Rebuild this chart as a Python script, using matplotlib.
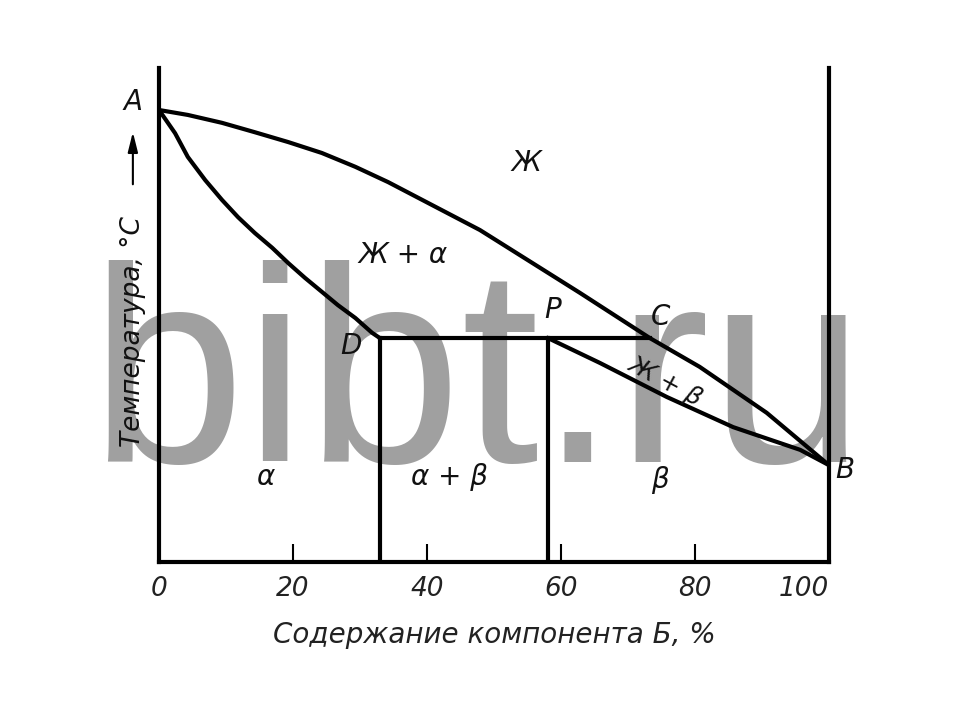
import matplotlib
matplotlib.use("Agg")
import matplotlib.pyplot as plt

# phase diagram, values (x = % B, y = temperature, arbitrary 0..100)
liquidus_x = [0, 4.3, 9.4, 14.3, 19.3, 24.3, 29.3, 34.2, 47.9, 62.8, 73.3, 80.7, 90.7, 100]
liquidus_y = [91.5, 90.5, 88.9, 87.0, 85.0, 82.8, 80.0, 76.9, 67.2, 54.5, 45.3, 39.5, 30.2, 19.6]

solidus_a_x = [0, 2.4, 4.3, 6.9, 9.4, 11.8, 14.3, 16.9, 19.3, 21.8, 24.3, 26.7, 29.3, 31.8, 33.0]
solidus_a_y = [91.5, 86.8, 82.0, 77.3, 73.3, 69.8, 66.6, 63.6, 60.5, 57.5, 54.7, 52.0, 49.4, 46.4, 45.3]

solidus_b_x = [58.1, 65.8, 75.8, 85.7, 95.7, 100]
solidus_b_y = [45.3, 40.3, 33.4, 27.3, 22.7, 19.6]

t_eut = 45.3
x_D, x_P, x_C = 33.0, 58.1, 73.3

xticks = [0, 20, 40, 60, 80, 100]
xtick_labels = ["0", "20", "40", "60", "80", "100"]

points = {"A": (-3.9, 93.1), "D": (28.6, 43.8), "P": (58.8, 51.0),
          "C": (74.8, 49.6), "B": (102.4, 18.6)}
regions = {"Ж": (54.9, 80.8), "Ж + α": (36.4, 62.1), "α": (15.8, 17.2),
           "α + β": (43.4, 17.2), "β": (74.8, 16.6)}

fig = plt.figure(figsize=(9.6, 7.2), dpi=100)
ax = fig.add_axes([159 / 960, (720 - 562) / 720, (829 - 159) / 960, (562 - 68) / 720])

# watermark behind the lines
ax.text(0.497, 0.358, "bibt.ru", fontsize=201, family="Liberation Sans",
        color="#a0a0a0", ha="center", va="baseline", zorder=0,
        transform=fig.transFigure, clip_on=False)

lw = 3
ax.plot(liquidus_x, liquidus_y, color="black", lw=lw, solid_joinstyle="round")
ax.plot(solidus_a_x, solidus_a_y, color="black", lw=lw, solid_joinstyle="round")
ax.plot(solidus_b_x, solidus_b_y, color="black", lw=lw, solid_joinstyle="round")
ax.plot([x_D, x_C], [t_eut, t_eut], color="black", lw=lw)
ax.plot([x_D, x_D], [0, t_eut], color="black", lw=lw)
ax.plot([x_P, x_P], [0, t_eut], color="black", lw=lw)

ax.set_xlim(0, 100)
ax.set_ylim(0, 100)
ax.spines["top"].set_visible(False)
for s in ["left", "right", "bottom"]:
    ax.spines[s].set_linewidth(3)
ax.set_yticks([])
ax.set_xticks(xticks)
ax.set_xticklabels(xtick_labels, fontsize=19, fontstyle="italic", color="#222222")
ax.get_xticklabels()[-1].set_ha("right")
ax.tick_params(axis="x", direction="in", length=13, width=1.5, pad=10)

txt = dict(fontstyle="italic", color="#111111", ha="center", va="center", clip_on=False)
for k, (x, y) in points.items():
    ax.text(x, y, k, fontsize=20, **txt)
for k, (x, y) in regions.items():
    ax.text(x, y, k, fontsize=20, **txt)
ax.text(75.6, 36.6, "Ж + β", fontsize=18, rotation=-28, **txt)

ax.set_xlabel("Содержание компонента Б, %", fontsize=20, fontstyle="italic",
              color="#222222", labelpad=14)

# rotated temperature label with arrow
ax.text(-3.9, 46.6, "Температура, °C", fontsize=19, rotation=90, **txt)
ax.annotate("", xy=(-3.9, 87.6), xytext=(-3.9, 75.9), annotation_clip=False,
            arrowprops=dict(arrowstyle="-|>,head_length=1.2,head_width=0.3",
                            color="black", lw=1.5))

fig.savefig("out.png", dpi=100)
